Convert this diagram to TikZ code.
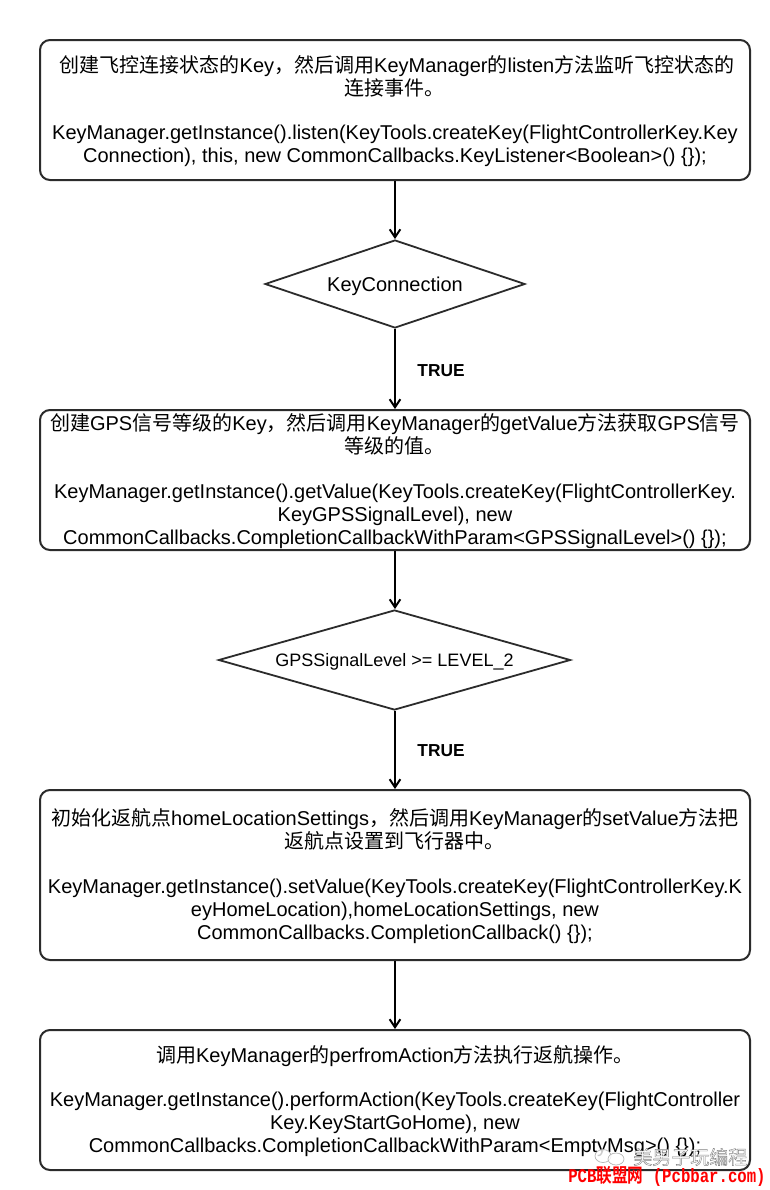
\documentclass[tikz,border=0pt]{standalone}
\usepackage{fontspec}
\setmainfont{Liberation Sans}
\newfontfamily\cjkfont{Noto Sans CJK SC}
\newfontfamily\cjkbold[FakeStretch=0.81]{Noto Sans CJK SC Bold}
\newfontfamily\redmono[FakeStretch=0.81]{Liberation Mono Bold}
\newcommand{\zh}[1]{{\cjkfont #1}}
\newcommand{\topfix}{\rule{0pt}{14.3pt}}
\usetikzlibrary{shapes.geometric,arrows.meta}
\definecolor{ink}{HTML}{2B2B2B}
\tikzset{
  x=0.75pt,y=-0.75pt,
  flowbox/.style={draw=ink,line width=1.5pt,rounded corners=7.5pt,fill=white,minimum width=532.5pt,inner sep=0pt,align=center,font=\fontsize{15}{17.25}\selectfont,text=black},
  decision/.style={draw=ink,line width=1.35pt,diamond,inner sep=0pt,fill=white,text=black},
  flowarrow/.style={draw=black,line width=1.5pt,-{Straight Barb[length=6pt,width=8pt,line width=1.5pt]}},
  truelabel/.style={font=\fontsize{13}{15}\selectfont\bfseries,text=black,inner sep=0pt},
}
\begin{document}
\begin{tikzpicture}
\useasboundingbox[fill=white] (0,0) rectangle (770,1190);
\node[flowbox,minimum height=105pt] (b1) at (395,110) {\topfix\hspace{3pt}\zh{创建飞控连接状态的}Key\zh{，然后调用}KeyManager\zh{的}listen\zh{方法监听飞控状态的}\\\zh{连接事件。}\\\mbox{}\\[-1.1pt]KeyManager.getInstance().listen(KeyTools.createKey(FlightControllerKey.Key\\Connection), this, new CommonCallbacks.KeyListener<Boolean>() \{\});};
\node[decision,aspect=2.95,minimum width=195pt,minimum height=66pt,font=\fontsize{15}{17.25}\selectfont] (d1) at (395,284) {\rule{0pt}{14pt}KeyConnection};
\node[flowbox,minimum height=105pt] (b2) at (395,480) {\topfix\zh{创建}GPS\zh{信号等级的}Key\zh{，然后调用}KeyManager\zh{的}getValue\zh{方法获取}GPS\zh{信号}\\\zh{等级的值。}\\\mbox{}\\[-1.1pt]KeyManager.getInstance().getValue(KeyTools.createKey(FlightControllerKey.\\KeyGPSSignalLevel), new\\CommonCallbacks.CompletionCallbackWithParam<GPSSignalLevel>() \{\});};
\node[decision,aspect=3.53,minimum width=264pt,minimum height=75pt,font=\fontsize{13.5}{15}\selectfont] (d2) at (394.5,660) {\rule{0pt}{13pt}GPSSignalLevel >= LEVEL\_2};
\node[flowbox,minimum height=127.5pt] (b3) at (395,875) {\topfix\zh{初始化返航点}homeLocationSettings\zh{，然后调用}KeyManager\zh{的}setValue\zh{方法把}\\\zh{返航点设置到飞行器中。}\\\mbox{}\\[-1.1pt]KeyManager.getInstance().setValue(KeyTools.createKey(FlightControllerKey.K\\eyHomeLocation),homeLocationSettings, new\\CommonCallbacks.CompletionCallback() \{\});};
\node[flowbox,minimum height=105pt] (b4) at (395,1100) {\topfix\zh{调用}KeyManager\zh{的}perfromAction\zh{方法执行返航操作。}\\\mbox{}\\[-1.1pt]KeyManager.getInstance().performAction(KeyTools.createKey(FlightController\\Key.KeyStartGoHome), new\\CommonCallbacks.CompletionCallbackWithParam<EmptyMsg>() \{\});};
\draw[flowarrow] (b1) -- (d1);
\draw[flowarrow] (d1) -- (b2);
\draw[flowarrow] (b2) -- (b2 |- d2.north);
\draw[flowarrow] (b2 |- d2.south) -- (b3);
\draw[flowarrow] (b3) -- (b4);
\node[truelabel] (t1) at (441,369) {\rule{0pt}{11.5pt}TRUE};
\node[truelabel] (t2) at (441,749) {\rule{0pt}{11.5pt}TRUE};
\begin{scope}[draw=gray!60,line width=0.5pt,fill=white,fill opacity=0.8]
\draw[fill] (603,1156) ellipse [x radius=8,y radius=6.5];
\draw[fill] (616,1159) ellipse [x radius=8,y radius=6];
\end{scope}
\node[inner sep=0pt,anchor=west,text=white,font=\fontsize{14.25}{16}\selectfont\cjkfont] (wm) at (633,1157) {\special{pdf:code q 2 Tr 0.3 w 0.5 G 1 g}美男子玩编程\special{pdf:code Q}};
\node[inner sep=0pt,anchor=west,text=red,font=\fontsize{14.5}{16}\selectfont\redmono] (pcb) at (568,1176) {PCB{\cjkbold 联盟网} (Pcbbar.com)};
\end{tikzpicture}
\end{document}
